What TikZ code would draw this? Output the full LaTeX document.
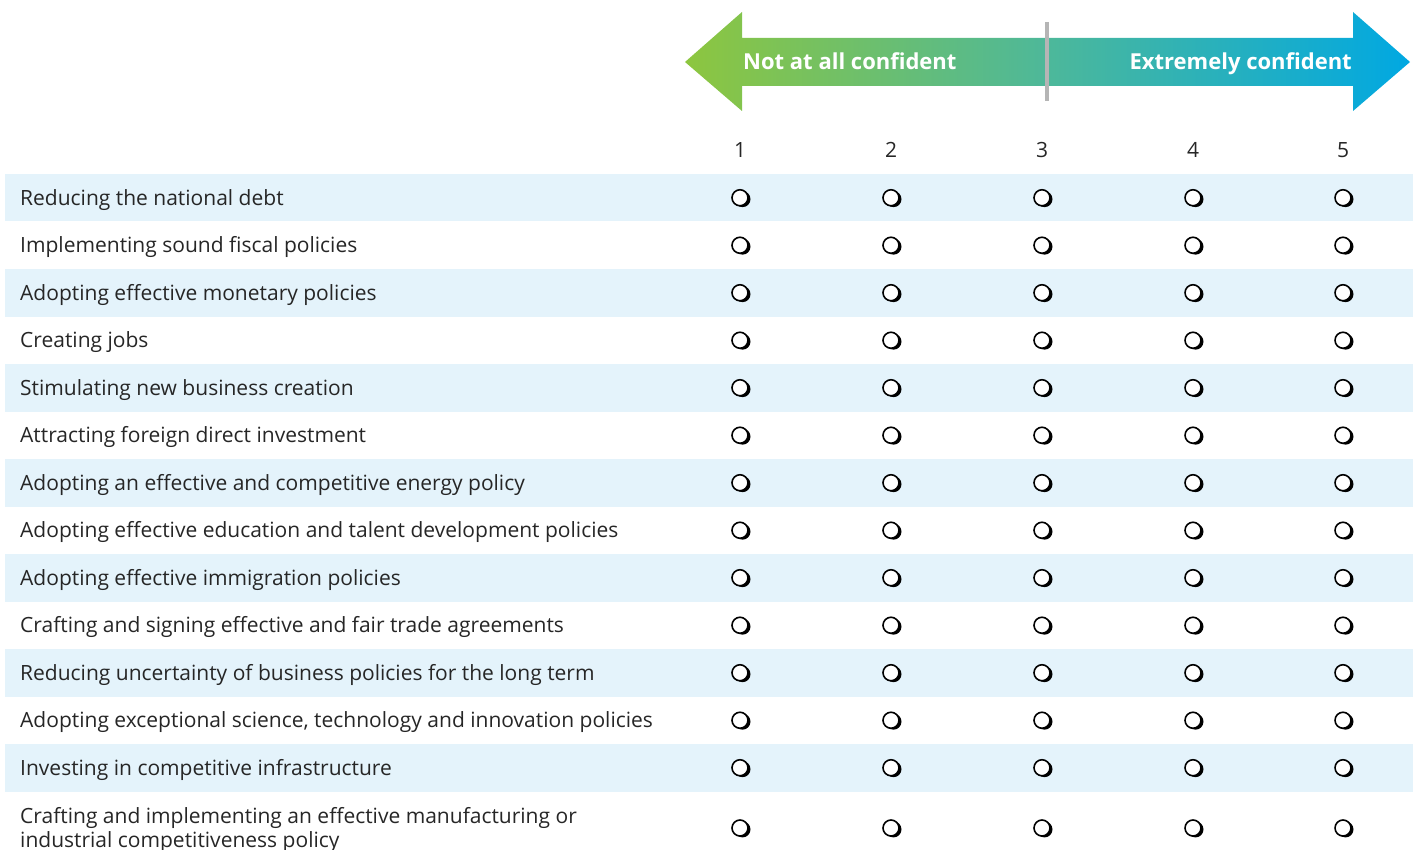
\documentclass[tikz,border=0pt]{standalone}
\usepackage{fontspec}
\setmainfont{Open Sans}
\definecolor{rowshade}{HTML}{E4F3FB}
\definecolor{agreen}{HTML}{8DC63F}
\definecolor{ateal}{HTML}{4DB89A}
\definecolor{ablue}{HTML}{00A8E2}
\definecolor{divgray}{HTML}{B5B5B5}
\begin{document}
\begin{tikzpicture}[x=1pt,y=-1pt,
  rowlabel/.style={anchor=base west, inner sep=0pt, font=\fontsize{21}{24}\selectfont, text=black!85},
  numlabel/.style={anchor=base, inner sep=0pt, font=\fontsize{21}{24}\selectfont, text=black!85},
  arrowtext/.style={inner sep=0pt, text=white, font=\bfseries\fontsize{22}{26}\selectfont},
  radio/.style={circle, minimum size=16pt, inner sep=0pt, draw=black, line width=1.6pt, fill=white,
    preaction={fill=black, transform canvas={shift={(2.5pt,-1.4pt)}}}}]
\useasboundingbox (0,0) rectangle (1413,850);
% shaded rows
\foreach \i in {1,3,...,13}
  \fill[rowshade] (5,{174+(\i-1)*47.5}) rectangle (1413,{174+\i*47.5});
% arrow
\path[left color=agreen, right color=ablue, middle color=ateal]
  (685,62) -- (742,12) -- (742,38) -- (1353,38) -- (1353,12) -- (1410,62)
  -- (1353,111) -- (1353,86) -- (742,86) -- (742,111) -- cycle;
\coordinate (dtop) at (1047,22);
\coordinate (dbot) at (1047,101);
\draw[divgray, line width=4pt] (dtop) -- (dbot);
\node[arrowtext, anchor=base west] (lowlab) at (743,70) {Not at all confident};
\node[arrowtext, anchor=base east] (highlab) at (1352,70) {Extremely confident};
% column numbers
\foreach \c/\x in {1/740,2/891,3/1042,4/1193,5/1343}
  \node[numlabel] (n\c) at (\x,158) {\c};
% rows
\foreach \t [count=\i] in {
  {Reducing the national debt},
  {Implementing sound fiscal policies},
  {Adopting effective monetary policies},
  {Creating jobs},
  {Stimulating new business creation},
  {Attracting foreign direct investment},
  {Adopting an effective and competitive energy policy},
  {Adopting effective education and talent development policies},
  {Adopting effective immigration policies},
  {Crafting and signing effective and fair trade agreements},
  {Reducing uncertainty of business policies for the long term},
  {Adopting exceptional science, technology and innovation policies},
  {Investing in competitive infrastructure}} {
  \pgfmathsetmacro{\yc}{174+(\i-0.5)*47.5}
  \node[rowlabel] (label\i) at (20,\yc+7.5) {\t};
  \foreach \c/\x in {1/740,2/891,3/1042,4/1193,5/1343}
    \node[radio] (r\i-\c) at (\x,\yc) {};
}
\node[rowlabel, anchor=north west, align=left, font=\fontsize{21}{24}\selectfont] (label14) at (20,807)
  {Crafting and implementing an effective manufacturing or\\industrial competitiveness policy};
\foreach \c/\x in {1/740,2/891,3/1042,4/1193,5/1343}
  \node[radio] (r14-\c) at (\x,828) {};
\end{tikzpicture}
\end{document}
